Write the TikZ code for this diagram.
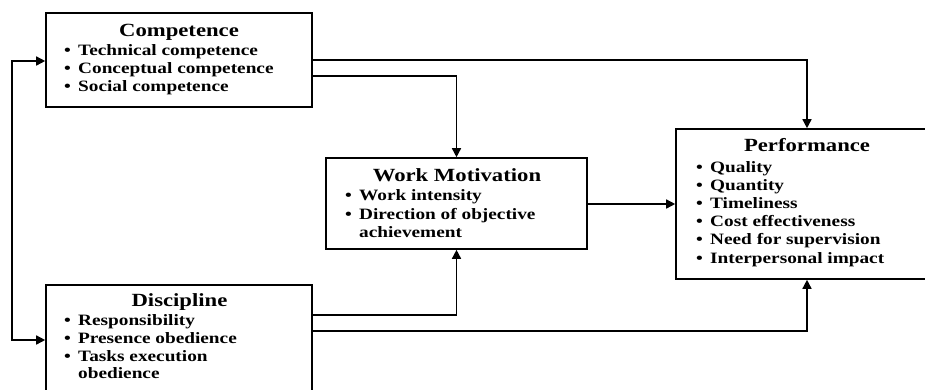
\documentclass[tikz,border=0pt]{standalone}
\usepackage{fontspec}
\setmainfont{Liberation Serif}[FakeStretch=1.22]
\usetikzlibrary{arrows.meta}
\tikzset{
  box/.style={draw=black, line width=1.6pt, rectangle, inner sep=0pt, fill=none},
  ttl/.style={anchor=base, inner sep=0pt, font=\fontsize{18.6}{22}\selectfont\bfseries},
  itm/.style={anchor=base west, inner sep=0pt, font=\fontsize{15.8}{18}\selectfont\bfseries},
  bul/.style={anchor=base west, inner sep=0pt, font=\fontsize{15.8}{18}\selectfont\bfseries},
  arr/.style={line width=1.5pt, -{Triangle[length=9pt,width=9pt]}},
  dbl/.style={line width=1.5pt, {Triangle[length=9pt,width=9pt]}-{Triangle[length=9pt,width=9pt]}},
}
\begin{document}
\begin{tikzpicture}[x=1pt,y=-1pt]
\useasboundingbox (0,0) rectangle (925,389);
% boxes
\node[box, minimum width=266pt, minimum height=94pt] (comp) at (179,60) {};
\node[box, minimum width=261pt, minimum height=91pt] (wm) at (456.5,203.5) {};
\node[box, minimum width=262pt, minimum height=150pt] (perf) at (807,204) {};
\node[box, minimum width=266pt, minimum height=115pt] (disc) at (179,342.5) {};
% Competence
\node[ttl] (compt) at (179,36) {Competence};
\foreach \t [count=\i] in {Technical competence, Conceptual competence, Social competence}{
  \node[bul] (cb\i) at (64,{37+18*\i}) {\textbullet};
  \node[itm] (ct\i) at (78,{37+18*\i}) {\t};
}
% Work Motivation
\node[ttl] (wmt) at (457,181) {Work Motivation};
\node[bul] (wb1) at (345,200) {\textbullet};
\node[itm] (wt1) at (359,200) {Work intensity};
\node[bul] (wb2) at (345,219) {\textbullet};
\node[itm] (wt2) at (359,219) {Direction of objective};
\node[itm] (wt3) at (359,237) {achievement};
% Performance
\node[ttl] (perft) at (807,151) {Performance};
\foreach \t [count=\i] in {Quality, Quantity, Timeliness, Cost effectiveness, Need for supervision, Interpersonal impact}{
  \node[bul] (pb\i) at (696,{153.8+18.2*\i}) {\textbullet};
  \node[itm] (pt\i) at (710,{153.8+18.2*\i}) {\t};
}
% Discipline
\node[ttl] (disct) at (179.5,306) {Discipline};
\node[bul] (db1) at (64,325) {\textbullet};
\node[itm] (dt1) at (78,325) {Responsibility};
\node[bul] (db2) at (64,343) {\textbullet};
\node[itm] (dt2) at (78,343) {Presence obedience};
\node[bul] (db3) at (64,361) {\textbullet};
\node[itm] (dt3) at (78,361) {Tasks execution};
\node[itm] (dt4) at (78,378) {obedience};
% connectors
\draw[arr] (comp.east) -| (perf.north);
\draw[arr] ([yshift=-16pt]comp.east) -| (wm.north);
\draw[arr] (wm.east |- perf.west) -- (perf.west);
\draw[arr] ([yshift=-31pt]disc.north east) -| (wm.south);
\draw[arr] ([yshift=-47pt]disc.north east) -| (perf.south);
\coordinate (lt) at (12,61);
\coordinate (lb) at (12,340);
\draw[dbl] (comp.west |- lt) -- (lt) -- (lb) -- (disc.west |- lb);
\end{tikzpicture}
\end{document}
